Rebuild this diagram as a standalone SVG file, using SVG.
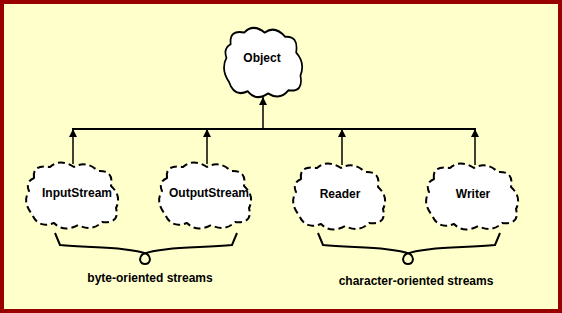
<svg xmlns="http://www.w3.org/2000/svg" width="562" height="313" viewBox="0 0 562 313">
<defs>
<style>
.cloud{fill:#ffffff;stroke:#000;stroke-width:2;stroke-linejoin:round}
.dashed{stroke-dasharray:7 4}
.lbl{font-family:"Liberation Sans",Arial,sans-serif;font-weight:bold;font-size:12px;fill:#000;text-anchor:middle}
.conn{stroke:#000;stroke-width:1.5;fill:none}
.bus{stroke:#000;stroke-width:2;fill:none}
.brace{stroke:#000;stroke-width:2;fill:none}
</style>
<marker id="arr" viewBox="0 0 10 10" refX="10" refY="5" markerWidth="8" markerHeight="8" markerUnits="userSpaceOnUse" orient="auto">
<path d="M0,0 L10,5 L0,10 Z" fill="#000"/>
</marker>
<path id="cloudShape" d="M -38,-18 Q -40,-32 -22,-29 Q -12,-38 2,-29 Q 14,-36 26,-25 Q 42,-26 39,-10 Q 50,0 44,12 Q 48,28 30,26 Q 20,36 6,29 Q -8,37 -18,27 Q -34,33 -40,18 Q -50,6 -43,-5 Q -47,-14 -38,-18 Z"/>
</defs>
<rect x="2" y="2" width="558" height="309" fill="#ffffcc" stroke="#990000" stroke-width="4"/>
<g id="connectors">
<line class="bus" x1="72" y1="129" x2="476" y2="129"/>
<line class="conn" x1="263" y1="129" x2="263" y2="97" marker-end="url(#arr)"/>
<line class="conn" x1="73" y1="164" x2="73" y2="129" marker-end="url(#arr)"/>
<line class="conn" x1="207" y1="164" x2="207" y2="129" marker-end="url(#arr)"/>
<line class="conn" x1="342" y1="165" x2="342" y2="129" marker-end="url(#arr)"/>
<line class="conn" x1="475" y1="165" x2="475" y2="129" marker-end="url(#arr)"/>
</g>
<g id="Object">
<use href="#cloudShape" class="cloud" transform="translate(263,63) scale(0.85,1.05)"/>
<text class="lbl" x="262" y="62">Object</text>
</g>
<g id="InputStream">
<use href="#cloudShape" class="cloud dashed" transform="translate(72,196)"/>
<text class="lbl" x="77" y="197">InputStream</text>
</g>
<g id="OutputStream">
<use href="#cloudShape" class="cloud dashed" transform="translate(205,196)"/>
<text class="lbl" x="209" y="197">OutputStream</text>
</g>
<g id="Reader">
<use href="#cloudShape" class="cloud dashed" transform="translate(339,197)"/>
<text class="lbl" x="340" y="198">Reader</text>
</g>
<g id="Writer">
<use href="#cloudShape" class="cloud dashed" transform="translate(472,197)"/>
<text class="lbl" x="473" y="198">Writer</text>
</g>
<g id="byte-oriented">
<path class="brace" d="M55,233 L60,245 C90,248 130,247 147,254 C152,258 150,264 145,264 C140,264 138,258 143,254 C160,247 200,248 232,245 L237,233"/>
<text class="lbl" x="150" y="282">byte-oriented streams</text>
</g>
<g id="character-oriented">
<path class="brace" d="M318,233 L323,245 C353,248 393,247 410,254 C415,258 413,264 408,264 C403,264 401,258 406,254 C423,247 463,248 495,245 L500,233"/>
<text class="lbl" x="416" y="285">character-oriented streams</text>
</g>
</svg>
